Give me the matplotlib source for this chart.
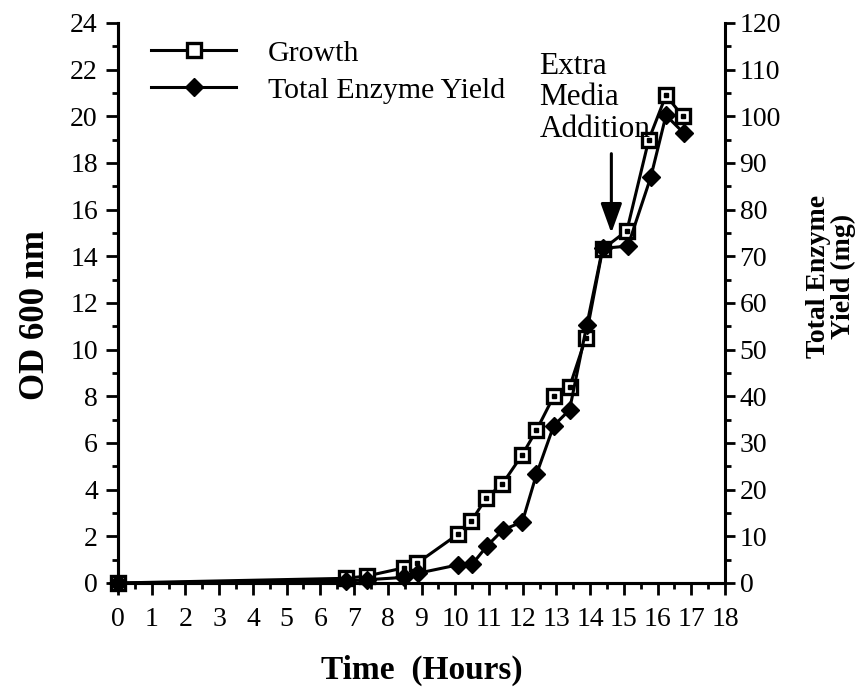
import matplotlib.pyplot as plt
from matplotlib.ticker import MultipleLocator

plt.rcParams['font.family'] = ['Liberation Serif', 'DejaVu Serif']

# Growth (OD 600 nm) against time (hours)
t_growth = [0, 6.76, 7.38, 8.48, 8.87, 10.09, 10.48, 10.92, 11.4, 11.99, 12.41,
            12.92, 13.39, 13.87, 14.37, 15.09, 15.74, 16.25, 16.75]
od600 = [0, 0.2, 0.3, 0.65, 0.85, 2.1, 2.65, 3.65, 4.25, 5.5, 6.55,
         8.0, 8.4, 10.5, 14.3, 15.1, 19.0, 20.9, 20.0]

# Total enzyme yield (mg) against time (hours)
t_enzyme = [0, 6.76, 7.38, 8.48, 8.9, 10.09, 10.5, 10.95, 11.42, 11.99, 12.41,
            12.92, 13.39, 13.9, 14.37, 15.12, 15.8, 16.25, 16.78]
enzyme_mg = [0, 0.4, 0.7, 1.2, 2.1, 3.9, 4.0, 8.0, 11.4, 13.1, 23.3,
             33.7, 37.1, 55.2, 71.7, 72.2, 87.0, 100.2, 96.4]

x_ticks = list(range(0, 19))
od_ticks = list(range(0, 25, 2))
mg_ticks = list(range(0, 121, 10))

fig = plt.figure(figsize=(8.57, 6.89), dpi=100)
ax = fig.add_axes([118/857, 1 - 583/689, (725 - 118)/857, (583 - 23)/689])
ax2 = ax.twinx()

lw = 2.2
g_line, = ax.plot(t_growth, od600, color='black', lw=lw, marker='s', ms=10.5,
                  mfc='white', mec='black', mew=2.4, clip_on=False, zorder=3,
                  label='Growth')
ax.plot(t_growth, od600, ls='none', marker='s', ms=2.4, color='black',
        clip_on=False, zorder=4)
e_line, = ax2.plot(t_enzyme, enzyme_mg, color='black', lw=lw, marker='D', ms=9,
                   mfc='black', mec='black', clip_on=False, zorder=3,
                   label='Total Enzyme Yield')

ax.set_xlim(0, 18)
ax.set_ylim(0, 24)
ax2.set_ylim(0, 120)
ax.set_xticks(x_ticks)
ax.set_yticks(od_ticks)
ax2.set_yticks(mg_ticks)
ax.xaxis.set_minor_locator(MultipleLocator(0.5))
ax.yaxis.set_minor_locator(MultipleLocator(1))
ax2.yaxis.set_minor_locator(MultipleLocator(5))

for a in (ax, ax2):
    a.spines['top'].set_visible(False)
    for s in a.spines.values():
        s.set_linewidth(lw)
ax.spines['right'].set_visible(False)

ax.tick_params(axis='x', which='major', direction='out', length=8.5, width=2,
               labelsize=20, pad=9)
ax.tick_params(axis='x', which='minor', direction='out', length=4.5, width=2)
ax.tick_params(axis='y', which='major', direction='out', length=8.5, width=2,
               labelsize=20, pad=6)
ax.tick_params(axis='y', which='minor', direction='out', length=4.5, width=2)
ax2.tick_params(axis='y', which='major', direction='out', length=7.5, width=2,
                labelsize=20, pad=3)
ax2.tick_params(axis='y', which='minor', direction='out', length=4, width=2)

ax.set_xlabel('Time  (Hours)', fontsize=24, fontweight='bold')
ax.xaxis.set_label_coords(0.5, -0.128)
ax.set_ylabel('OD 600 nm', fontsize=25, fontweight='bold')
ax.yaxis.set_label_coords(-0.108, 0.479)
ax2.set_ylabel('Total Enzyme\nYield (mg)', fontsize=20, fontweight='bold',
               linespacing=0.95)
ax2.yaxis.set_label_coords(1.134, 0.548)

ax.annotate('', xy=(14.63, 15.0), xytext=(14.63, 18.4),
            arrowprops=dict(arrowstyle='-|>,head_length=1.8,head_width=0.65',
                            color='black', lw=2.2, shrinkA=0, shrinkB=0))
ax.text(12.5, 20.8, 'Extra\nMedia\nAddition', fontsize=22.5, ha='left',
        va='center', linespacing=1.12)

ax2.legend(handles=[g_line, e_line], loc='upper left', fontsize=21.5,
           frameon=False, handlelength=2.85, handletextpad=1.05,
           labelspacing=0.34, bbox_to_anchor=(0.02, 1.007), borderaxespad=0.3)

fig.savefig('out.png', dpi=100)
